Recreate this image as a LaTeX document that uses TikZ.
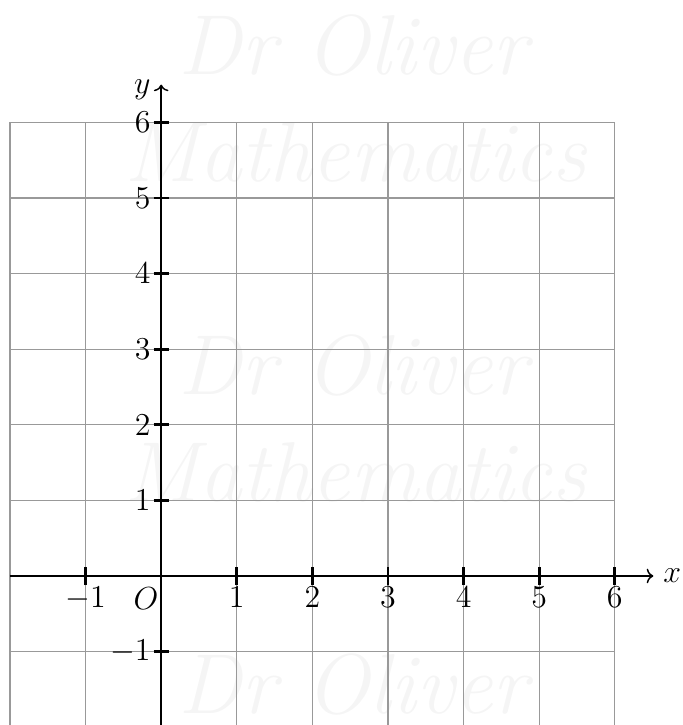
\documentclass[tikz,border=0pt]{standalone}
\usetikzlibrary{arrows.meta}
\begin{document}
\begin{tikzpicture}[x=1cm,y=1cm, font=\large,
  gridline/.style={gray!80, line width=0.4pt},
  axisline/.style={black, line width=0.55pt, -{To[length=2.5pt,width=5.5pt]}},
  tickmark/.style={black, line width=1.1pt},
  wmark/.style={text=black!4, font=\fontsize{32}{36}\selectfont\itshape}]
\useasboundingbox (-2.132,-1.971) rectangle (6.902,7.619);
\clip (-2.132,-1.971) rectangle (6.902,7.619);
% watermark
\node[wmark] (w1) at (2.54,7.02) {Dr Oliver};
\node[wmark] (w2) at (2.57,5.60) {Mathematics};
\node[wmark] (w3) at (2.54,2.79) {Dr Oliver};
\node[wmark] (w4) at (2.57,1.37) {Mathematics};
\node[wmark] (w5) at (2.54,-1.44) {Dr Oliver};
% grid
\draw[gridline] (-2,-2) grid (6,6);
% axes
\coordinate (xs) at (-2,0);
\coordinate (xe) at (6.51,0);
\coordinate (ys) at (0,-2);
\coordinate (ye) at (0,6.5);
\draw[axisline] (xs) -- (xe);
\draw[axisline] (ys) -- (ye);
\node (xl) at (6.76,0) {$x$};
\node (yl) at (-0.25,6.43) {$y$};
% x ticks
\foreach \i in {-1,1,2,3,4,5,6}{
  \draw[tickmark] (\i,-0.12) -- (\i,0.12);
  \node[anchor=north, inner sep=0.5pt] (xt\i) at (\i,-0.12) {$\i$};
}
\node (O) at (-0.2,-0.3) {$O$};
% y ticks
\foreach \j in {-1,1,2,3,4,5,6}{
  \draw[tickmark] (-0.1,\j) -- (0.1,\j);
  \node[anchor=east, inner sep=1pt] (yt\j) at (-0.1,\j) {$\j$};
}
\end{tikzpicture}
\end{document}
